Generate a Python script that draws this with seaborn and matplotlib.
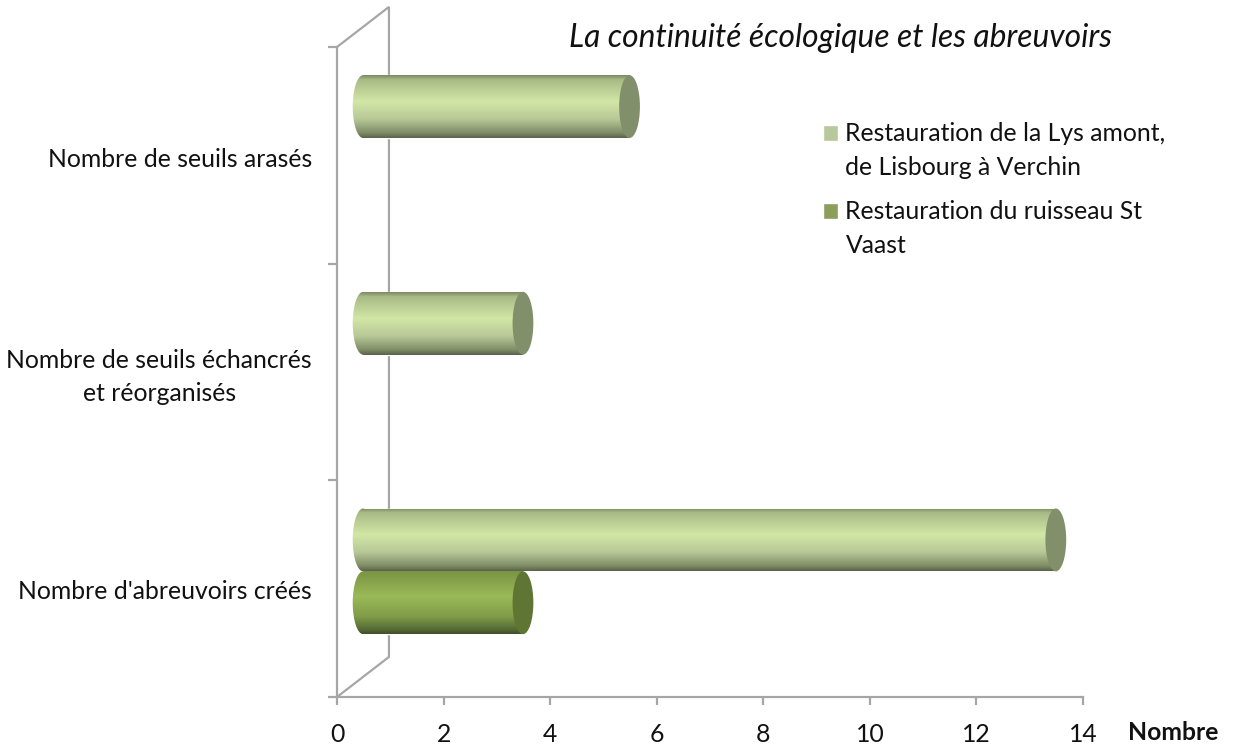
import numpy as np
import pandas as pd
import matplotlib
matplotlib.use('Agg')
import matplotlib.pyplot as plt
from matplotlib.colors import LinearSegmentedColormap
from matplotlib.legend_handler import HandlerPatch
from matplotlib.patches import Ellipse, Rectangle
from matplotlib.transforms import ScaledTranslation
import seaborn as sns

categories = ['Nombre de seuils arasés',
              'Nombre de seuils échancrés\net réorganisés',
              "Nombre d'abreuvoirs créés"]
series_names = ['Restauration de la Lys amont,\nde Lisbourg à Verchin',
                'Restauration du ruisseau St\nVaast']
lys_values = [5, 3, 13]
vaast_values = [0, 0, 3]
x_ticks = [0, 2, 4, 6, 8, 10, 12, 14]

title = 'La continuité écologique et les abreuvoirs'
x_name = 'Nombre'

GREY = '#a6a6a6'
sns.set_style('white')
plt.rcParams['font.family'] = ['Lato', 'DejaVu Sans']
FONT = 17.8

df = pd.DataFrame({
    'categorie': categories * 2,
    'nombre': lys_values + vaast_values,
    'serie': [series_names[0]] * 3 + [series_names[1]] * 3,
})

fig = plt.figure(figsize=(12.34, 7.51), dpi=100)
ax = fig.add_axes([337 / 1234, 1 - 697 / 751, 746 / 1234, 650 / 751])

axes = sns.barplot(data=df, y='categorie', x='nombre', hue='serie', width=0.58,
                   palette=['#b9cf95', '#8faa50'], ax=ax, zorder=3)

# cylinder shading, top to bottom
shades = [
    (LinearSegmentedColormap.from_list('lys', [(0, '#7b8862'), (0.07, '#a8ba86'), (0.42, '#d2e7a6'),
                                               (0.7, '#b8c897'), (0.92, '#7f8c66'), (1, '#58634a')]), '#81906b'),
    (LinearSegmentedColormap.from_list('vaast', [(0, '#7a9443'), (0.4, '#9aba58'), (0.72, '#809c48'),
                                                 (0.93, '#556a34'), (1, '#414f29')]), '#5f7534'),
]

depth = 0.49  # 3d offset of the bars along x
lift = 0.08   # same along y
cap = 0.39    # width of the end ellipses
ramp = np.linspace(0, 1, 256).reshape(-1, 1)

for container, (cmap, end_color) in zip(ax.containers, shades):
    for bar in container:
        value = bar.get_width()
        if value == 0:
            bar.set_visible(False)
            continue
        bar.set_x(depth)
        bar.set_y(bar.get_y() - lift)
        y0, h = bar.get_y(), bar.get_height()
        start = Ellipse((depth, y0 + h / 2), cap, h, fc='none', ec='none')
        ax.add_patch(start)
        for clip in (bar, start):
            im = ax.imshow(ramp, cmap=cmap, aspect='auto', zorder=3, vmin=0, vmax=1,
                           extent=(depth - cap, depth + value, y0 + h, y0))
            im.set_clip_path(clip)
        ax.add_patch(Ellipse((depth + value, y0 + h / 2), cap, h, fc=end_color, ec='none', zorder=4))

ax.set_xlim(0, 14)
ax.set_ylim(2.5, -0.5)

# back wall of the 3d box
wall_x = 0.975
wall_y = 0.185
ax.plot([0, wall_x, wall_x, 0], [-0.5, -0.5 - wall_y, 2.5 - wall_y, 2.5], color=GREY, lw=1.6,
        clip_on=False, zorder=1, solid_joinstyle='miter')

for side in ['top', 'right']:
    ax.spines[side].set_visible(False)
for side in ['left', 'bottom']:
    ax.spines[side].set_color(GREY)
    ax.spines[side].set_linewidth(1.6)

ax.set_xticks(x_ticks)
ax.set_yticks([0, 1, 2])
ax.set_yticks([-0.5, 0.5, 1.5, 2.5], minor=True)
ax.set_yticklabels(categories, multialignment='center', linespacing=1.57)
ax.tick_params(axis='y', which='major', length=0, pad=18, labelsize=FONT, labelcolor='#111111')
ax.tick_params(axis='y', which='minor', length=6.5, width=1.6, color=GREY, left=True)
ax.tick_params(axis='x', length=6, width=1.6, color=GREY, bottom=True, pad=13, labelsize=FONT, labelcolor='#111111')
# label nudges in pixels, the two line one sits a bit higher
for lab, nudge in zip(ax.get_yticklabels(), [2.5, -2.5, 0.5]):
    lab.set_transform(lab.get_transform() + ScaledTranslation(0, -nudge / 100, fig.dpi_scale_trans))

ax.set_ylabel('')
ax.set_xlabel(x_name, fontweight='bold', fontsize=FONT, color='#111111')
ax.xaxis.set_label_coords(1.1205, -0.054, transform=ax.transAxes)
ax.xaxis.label.set_va('center')

fig.text(840 / 1234, 1 - 38 / 751, title, fontsize=22.9, style='italic', color='#111111',
         ha='center', va='center')


def first_line_square(legend, orig_handle, xdescent, ydescent, width, height, fontsize):
    # square sits beside the first text line, not the middle of the label
    return Rectangle((-xdescent, -ydescent + 13), width, height)


handles, labels = ax.get_legend_handles_labels()
leg = ax.legend(handles, labels, loc='upper left', bbox_to_anchor=(823 / 1234, 1 - 122 / 751),
                bbox_transform=fig.transFigure, frameon=False, fontsize=FONT, title=None,
                handlelength=0.61, handleheight=0.61, handletextpad=0.3, labelspacing=0.85,
                borderpad=0, borderaxespad=0,
                handler_map={h: HandlerPatch(patch_func=first_line_square) for h in handles})
for t in leg.get_texts():
    t.set_linespacing(1.57)
    t.set_color('#111111')

fig.savefig('out.png', dpi=100)
